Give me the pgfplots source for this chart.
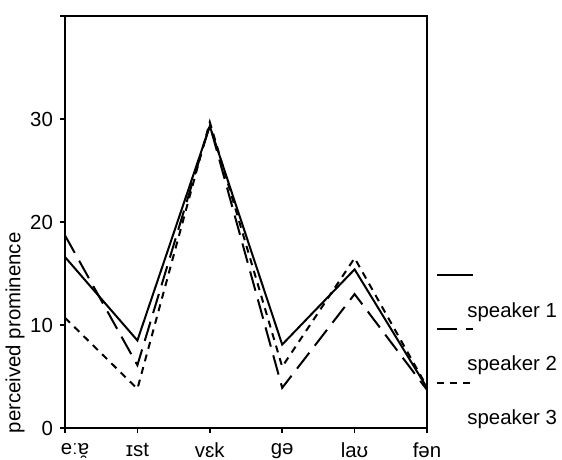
\documentclass[border=0pt]{standalone}
\usepackage{fontspec}
\setmainfont{Liberation Sans}
\usepackage{pgfplots}
\pgfplotsset{compat=1.18}
\begin{document}
\begin{tikzpicture}
  \useasboundingbox (-32.5pt,-16pt) rectangle (248.5pt,214pt);
  \begin{axis}[
    at={(0pt,0pt)}, anchor=south west,
    scale only axis,
    width=181pt, height=206pt,
    xmin=0, xmax=5, ymin=0, ymax=40,
    xtick={0,1,2,3,4,5},
    xticklabels={{\hspace{10pt}eːɐ̯},ɪst,vɛk,ɡə,laʊ,fən},
    xticklabel style={yshift=-1.5pt},
    ytick={0,10,20,30,40},
    yticklabels={0,10,20,30,{}},
    tick align=outside,
    tick pos=left,
    major tick length=2.5pt,
    tick style={black, line width=0.8pt},
    axis line style={line width=1.1pt},
    font=\fontsize{10.2}{12}\selectfont,
    /pgf/number format/assume math mode=true,
    ylabel={perceived prominence},
    ylabel style={at={(axis description cs:-0.138,0.231)}, anchor=center},
    legend cell align=left,
    legend style={
      at={(axis description cs:1,0)}, anchor=south west,
      xshift=19pt, yshift=0pt,
      draw=none, fill=none, inner sep=0pt,
      column sep=0pt, row sep=18pt,
      nodes={inner sep=0pt},
      font=\fontsize{10.2}{12}\selectfont,
    },
    legend image code/.code={
      \draw[#1, overlay] (-14.5pt,18pt) -- (3.5pt,18pt);
      \path (0pt,0pt);
    },
  ]
    \addplot[black, line width=1pt]
      coordinates {(0,16.6) (1,8.5) (2,29.3) (3,8.1) (4,15.4) (5,3.9)};
    \addlegendentry{speaker 1}
    \addplot[black, line width=1pt, dash pattern=on 10pt off 4.5pt]
      coordinates {(0,18.7) (1,6.1) (2,29.4) (3,3.9) (4,13.0) (5,3.7)};
    \addlegendentry{speaker 2}
    \addplot[black, line width=1pt, dash pattern=on 3.5pt off 3pt]
      coordinates {(0,10.7) (1,3.8) (2,29.7) (3,5.95) (4,16.5) (5,4.0)};
    \addlegendentry{speaker 3}
  \end{axis}
\end{tikzpicture}
\end{document}
